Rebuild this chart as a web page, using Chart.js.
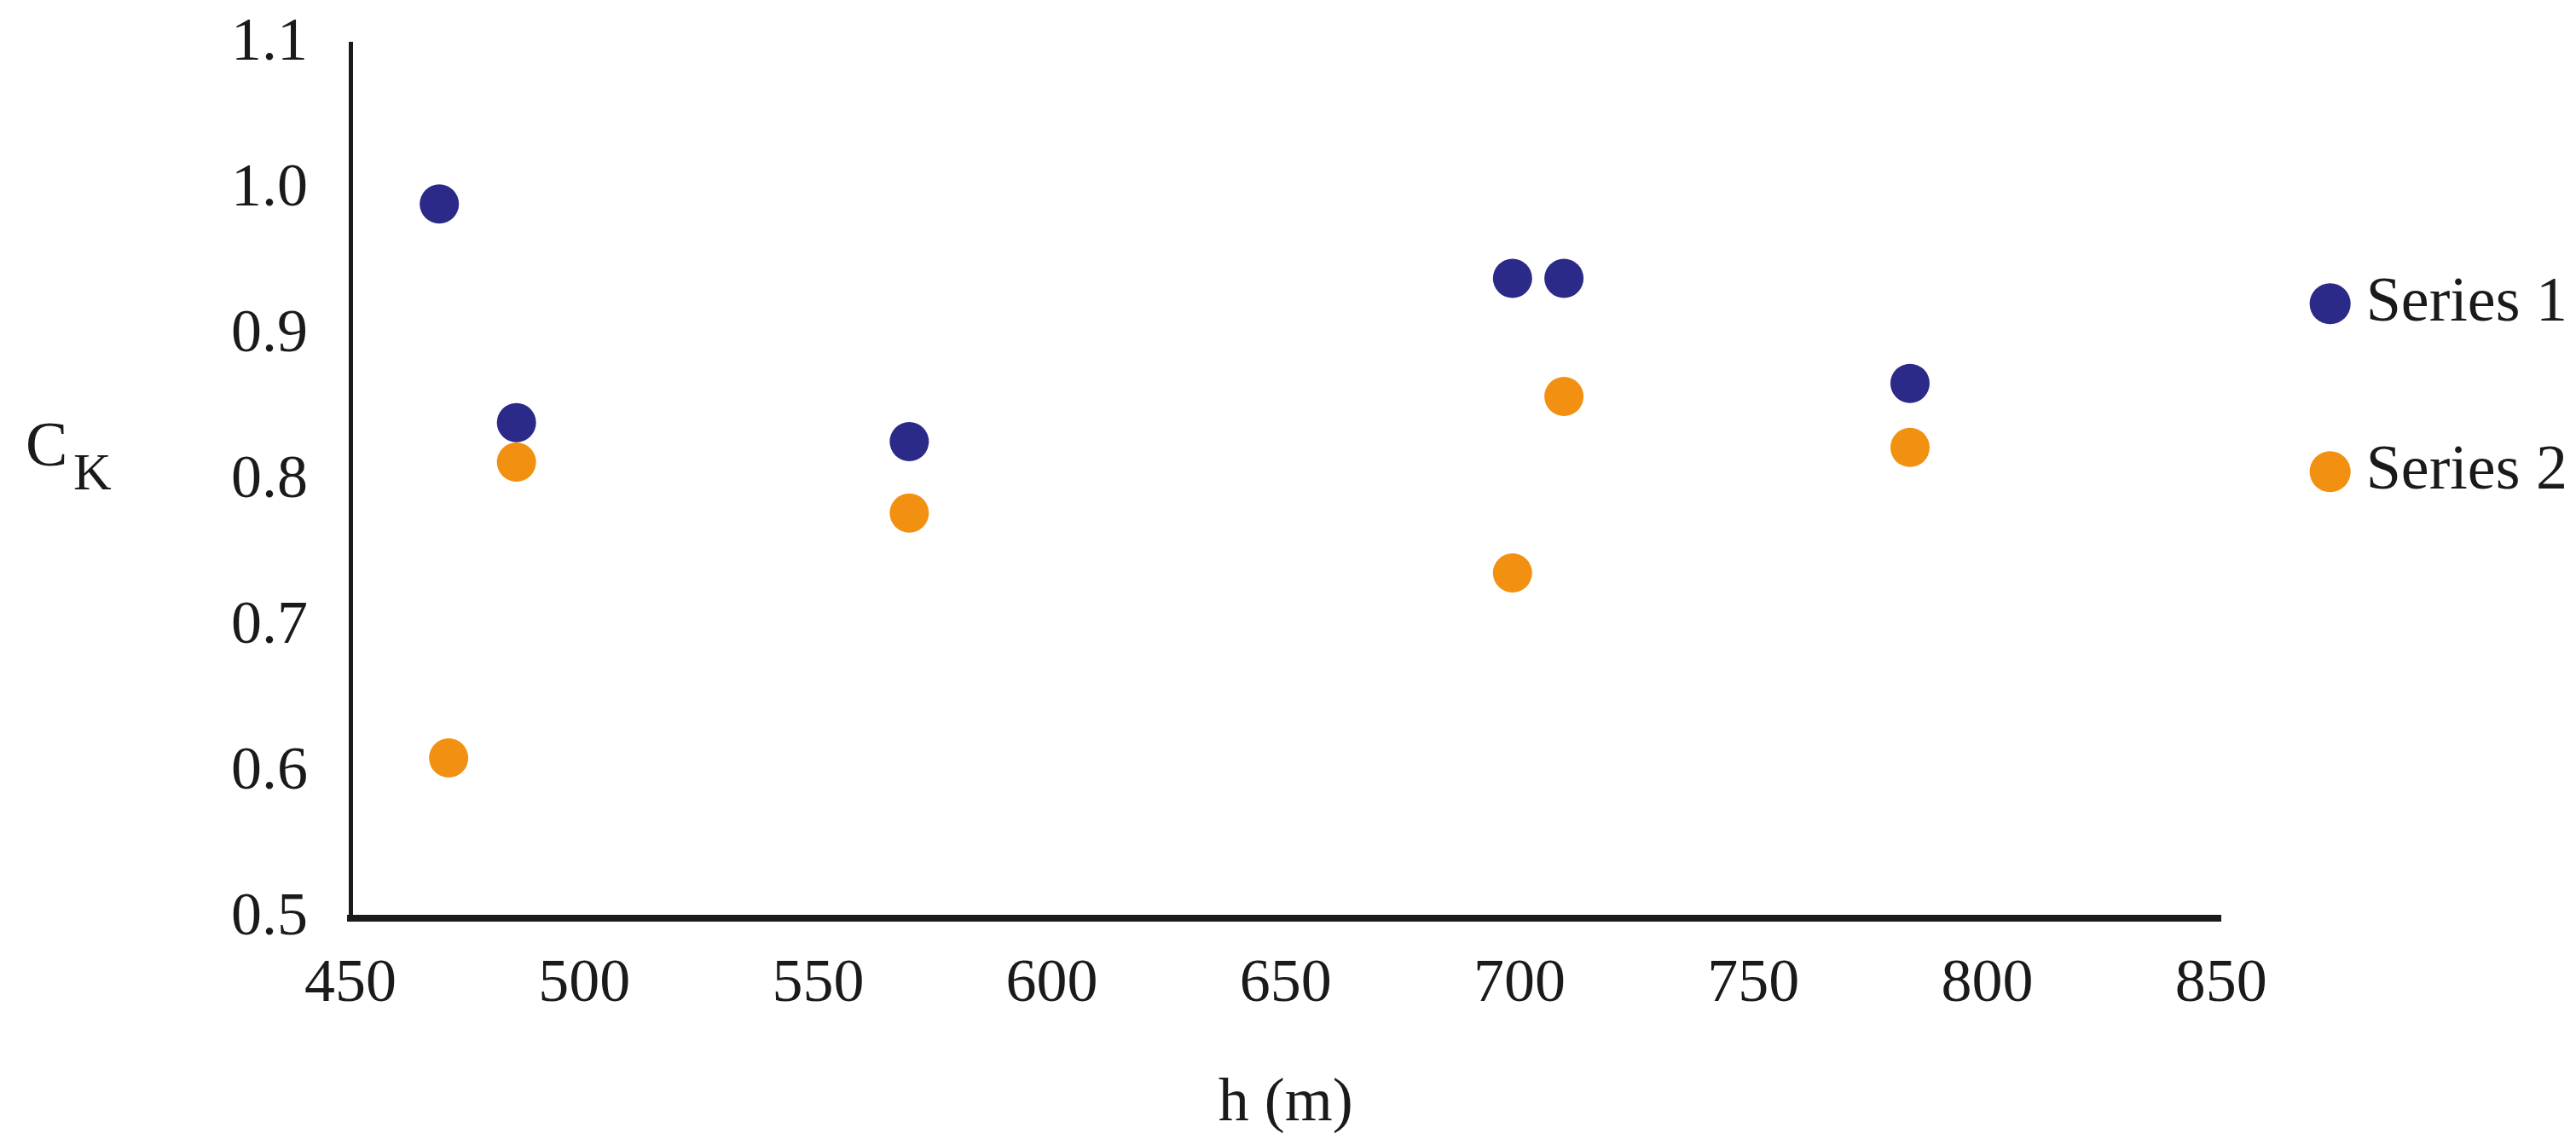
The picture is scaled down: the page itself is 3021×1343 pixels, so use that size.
<!DOCTYPE html>
<html>
<head>
<meta charset="utf-8">
<script src="https://cdn.jsdelivr.net/npm/chart.js@4.4.1/dist/chart.umd.min.js"></script>
<style>
  html, body { margin: 0; padding: 0; background: #fff; }
  canvas { display: block; }
</style>
</head>
<body>
<canvas id="chart" width="3021" height="1343"></canvas>
<script>
// values
const series1X = [469, 485.5, 569.5, 698.5, 709.5, 783.5];
const series1Y = [0.99, 0.84, 0.827, 0.939, 0.939, 0.867];
const series2X = [471, 485.5, 569.5, 698.5, 709.5, 783.5];
const series2Y = [0.61, 0.813, 0.778, 0.737, 0.858, 0.823];
const xTicks = [450, 500, 550, 600, 650, 700, 750, 800, 850];
const yTicks = [0.5, 0.6, 0.7, 0.8, 0.9, 1.0, 1.1];
const seriesNames = ['Series 1', 'Series 2'];
const seriesColors = ['#2b2a88', '#f29111'];

const toPoints = (xs, ys) => xs.map((x, i) => ({ x: x, y: ys[i] }));

Chart.defaults.font.family = '"Liberation Serif", serif';
Chart.defaults.color = '#1a1a1a';

// C with subscript K, drawn beside the y axis
const ckTitle = {
    id: 'ckTitle',
    afterDraw(chart) {
        const ctx = chart.ctx;
        const ys = chart.scales.y;
        const mid = (ys.top + ys.bottom) / 2;
        ctx.save();
        ctx.fillStyle = '#1a1a1a';
        ctx.textBaseline = 'middle';
        ctx.textAlign = 'left';
        ctx.font = '74px "Liberation Serif"';
        ctx.fillText('C', 30, mid - 38);
        ctx.font = '62px "Liberation Serif"';
        ctx.fillText('K', 86, mid - 6);
        ctx.restore();
    }
};

const ctx = document.getElementById('chart').getContext('2d');
const chart = new Chart(ctx, {
    type: 'scatter',
    data: {
        datasets: [{
            label: seriesNames[0],
            data: toPoints(series1X, series1Y),
            backgroundColor: seriesColors[0],
            borderColor: seriesColors[0],
            pointRadius: 23,
            pointHoverRadius: 23,
            borderWidth: 0
        }, {
            label: seriesNames[1],
            data: toPoints(series2X, series2Y),
            backgroundColor: seriesColors[1],
            borderColor: seriesColors[1],
            pointRadius: 23,
            pointHoverRadius: 23,
            borderWidth: 0
        }]
    },
    options: {
        responsive: false,
        animation: false,
        layout: {
            padding: { left: 263, top: 10, right: 0, bottom: 5 }
        },
        plugins: {
            legend: {
                display: true,
                position: 'right',
                align: 'start',
                fullSize: false,
                title: {
                    display: true,
                    text: '',
                    font: { size: 10, lineHeight: 1 },
                    padding: { top: 135, bottom: 0 }
                },
                labels: {
                    usePointStyle: true,
                    pointStyle: 'circle',
                    boxWidth: 10,
                    boxHeight: 34,
                    padding: 123,
                    color: '#1a1a1a',
                    font: { size: 74 }
                }
            },
            tooltip: { enabled: false }
        },
        scales: {
            x: {
                type: 'linear',
                min: 450,
                max: 850,
                afterBuildTicks: (scale) => { scale.ticks = xTicks.map(v => ({ value: v })); },
                grid: { display: false, drawTicks: false },
                border: { display: true, color: '#1a1a1a', width: 8 },
                ticks: { padding: 35, font: { size: 72 }, color: '#1a1a1a' },
                title: {
                    display: true,
                    text: 'h (m)',
                    font: { size: 72 },
                    color: '#1a1a1a',
                    padding: { top: 18, bottom: 0 }
                }
            },
            y: {
                type: 'linear',
                min: 0.5,
                max: 1.1,
                afterBuildTicks: (scale) => { scale.ticks = yTicks.map(v => ({ value: v })); },
                grid: { display: false, drawTicks: true, tickLength: 42 },
                border: { display: true, color: '#1a1a1a', width: 5 },
                ticks: {
                    padding: 8,
                    font: { size: 72 },
                    color: '#1a1a1a',
                    callback: (v) => Number(v).toFixed(1)
                }
            }
        }
    },
    plugins: [ckTitle]
});
</script>
</body>
</html>
